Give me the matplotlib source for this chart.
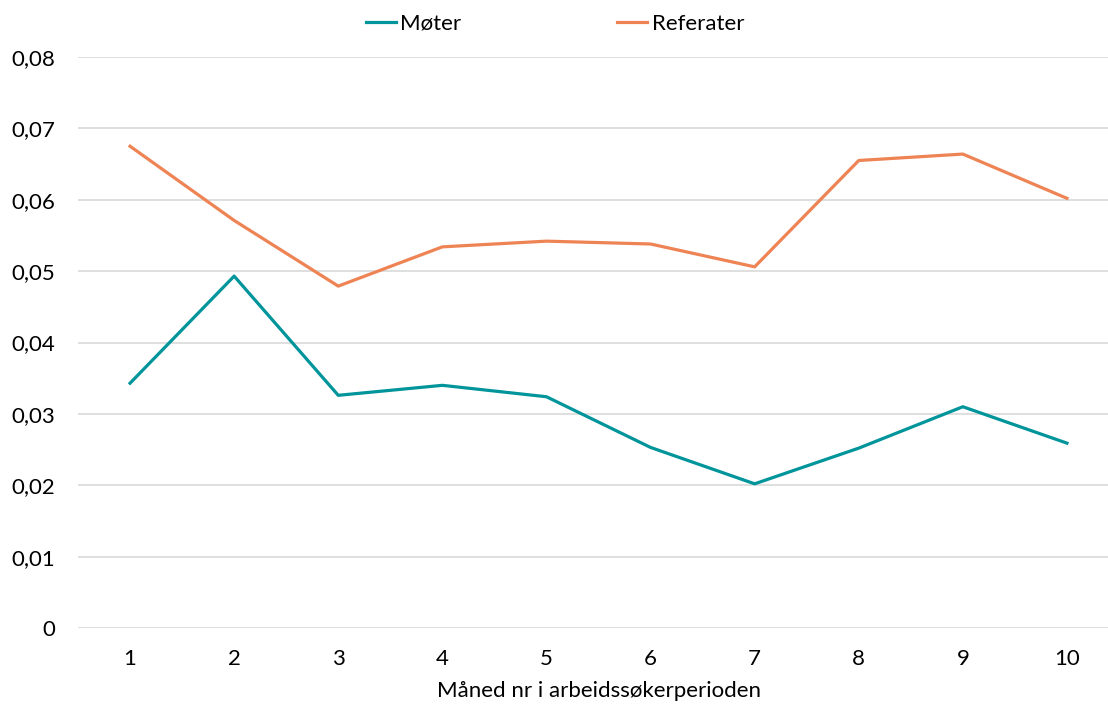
import matplotlib
matplotlib.use("Agg")
import matplotlib.pyplot as plt
from matplotlib.ticker import FuncFormatter

plt.rcParams['font.family'] = ['Lato', 'DejaVu Sans']

maaned = [1, 2, 3, 4, 5, 6, 7, 8, 9, 10]
moter = [0.0343, 0.0493, 0.0326, 0.0340, 0.0324, 0.0253, 0.0202, 0.0252, 0.0310, 0.0259]
referater = [0.0675, 0.0571, 0.0479, 0.0534, 0.0542, 0.0538, 0.0506, 0.0655, 0.0664, 0.0602]

fig = plt.figure(figsize=(11.08, 7.04), dpi=100)
W, H = 1108, 704
ax = fig.add_axes([78 / W, 1 - 628 / H, (1119 - 78) / W, (628 - 57) / H])

ax.plot(maaned, moter, color='#00949B', lw=2.3, label='Møter')
ax.plot(maaned, referater, color='#EE8354', lw=2.3, label='Referater')

ax.set_xlim(0.5, 10.5)
ax.set_ylim(0, 0.08)
ax.set_yticks([i / 100 for i in range(9)])
ax.yaxis.set_major_formatter(FuncFormatter(lambda v, p: '0' if v == 0 else f'{v:.2f}'.replace('.', ',')))
ax.set_xticks(maaned)
ax.grid(axis='y', color='#D9D9D9', lw=1.2)
ax.set_axisbelow(True)
for s in ax.spines.values():
    s.set_visible(False)
ax.tick_params(length=0, labelsize=16, colors='black')
ax.tick_params(axis='x', pad=15)
ax.tick_params(axis='y', pad=16.5)

ax.set_xlabel('Måned nr i arbeidssøkerperioden', fontsize=16, labelpad=9)

fig.legend(loc='center', bbox_to_anchor=(555 / W, 1 - 24 / H), ncol=2, frameon=False,
           fontsize=16, handlelength=1.35, handletextpad=0.2, columnspacing=7.0)

fig.savefig('out.png', dpi=100)
